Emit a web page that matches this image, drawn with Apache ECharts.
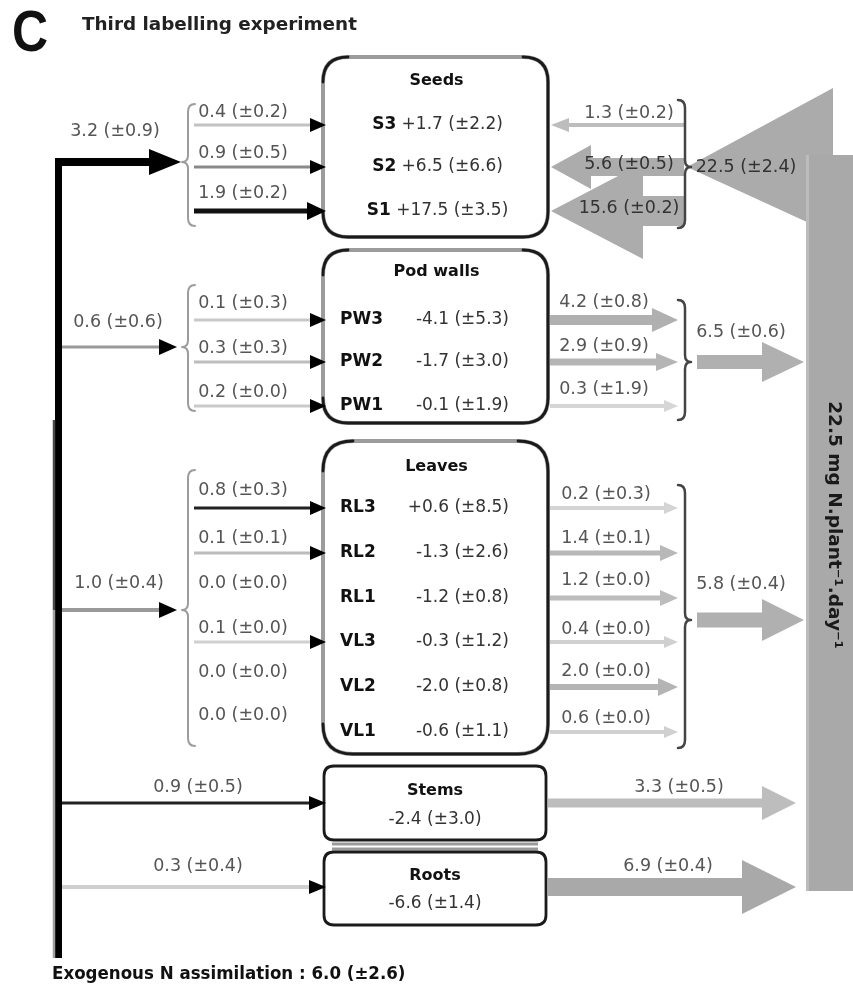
<!DOCTYPE html>
<html><head><meta charset="utf-8">
<script src="https://cdn.jsdelivr.net/npm/echarts@6/dist/echarts.min.js"></script>
<style>html,body{margin:0;padding:0;background:#fff}#c{width:853px;height:990px}</style>
</head><body><div id="c"></div>
<script>
// ================= DATA =================
const panelLetter = "C";
const panelTitle = "Third labelling experiment";
const organNames = ["Seeds", "Pod walls", "Leaves", "Stems", "Roots"];
// exogenous N delivered to each organ (mean, sd)
const exoMean = [3.2, 0.6, 1.0, 0.9, 0.3];
const exoSd   = [0.9, 0.6, 0.4, 0.5, 0.4];
// seeds
const seedLayers   = ["S3", "S2", "S1"];
const seedBalMean  = [1.7, 6.5, 17.5];
const seedBalSd    = [2.2, 6.6, 3.5];
const seedExoMean  = [0.4, 0.9, 1.9];
const seedExoSd    = [0.2, 0.5, 0.2];
const seedRemobMean = [1.3, 5.6, 15.6];
const seedRemobSd   = [0.2, 0.5, 0.2];
// pod walls
const podLayers  = ["PW3", "PW2", "PW1"];
const podBalMean = [-4.1, -1.7, -0.1];
const podBalSd   = [5.3, 3.0, 1.9];
const podExoMean = [0.1, 0.3, 0.2];
const podExoSd   = [0.3, 0.3, 0.0];
const podOutMean = [4.2, 2.9, 0.3];
const podOutSd   = [0.8, 0.9, 1.9];
// leaves
const leafLayers  = ["RL3", "RL2", "RL1", "VL3", "VL2", "VL1"];
const leafBalMean = [0.6, -1.3, -1.2, -0.3, -2.0, -0.6];
const leafBalSd   = [8.5, 2.6, 0.8, 1.2, 0.8, 1.1];
const leafExoMean = [0.8, 0.1, 0.0, 0.1, 0.0, 0.0];
const leafExoSd   = [0.3, 0.1, 0.0, 0.0, 0.0, 0.0];
const leafOutMean = [0.2, 1.4, 1.2, 0.4, 2.0, 0.6];
const leafOutSd   = [0.3, 0.1, 0.0, 0.0, 0.0, 0.0];
// stems & roots balance (mean, sd)
const stemBal = [-2.4, 3.0];
const rootBal = [-6.6, 1.4];
// organ totals remobilised to / from the pool (mean, sd)
const totalMean = [22.5, 6.5, 5.8, 3.3, 6.9];
const totalSd   = [2.4, 0.6, 0.4, 0.5, 0.4];
const poolLabel = "22.5 mg N.plant\u207B\u00B9.day\u207B\u00B9";
const exoTotal = [6.0, 2.6];
const exoTotalLabel = "Exogenous N assimilation";

// ================= LAYOUT / STYLE =================
const FF = "DejaVu Sans";
const fmt = (m, s) => m.toFixed(1) + " (\u00B1" + s.toFixed(1) + ")";
const fmtS = (m, s) => (m > 0 ? "+" : (m < 0 ? "-" : "")) + Math.abs(m).toFixed(1) + " (\u00B1" + s.toFixed(1) + ")";

const shapes = [];
const T = (x, y, t, o) => shapes.push(Object.assign({k: 'text', x, y, t}, o || {}));
const Ln = (pts, color, w) => shapes.push({k: 'line', pts, color, w});
const Head = (tip, y, len, half, color, dir) =>
  shapes.push({k: 'poly', pts: [[tip, y], [tip - dir * len, y - half], [tip - dir * len, y + half]], fill: color});
const Fat = (x1, x2, y, sh, hl, hh, color) => {
  const d = x2 > x1 ? 1 : -1, xb = x2 - d * hl;
  shapes.push({k: 'poly', fill: color, pts: [[x1, y - sh / 2], [xb, y - sh / 2], [xb, y - hh], [x2, y], [xb, y + hh], [xb, y + sh / 2], [x1, y + sh / 2]]});
};
const Path = (segs, color, w, fill) => shapes.push({k: 'path', segs, color, w, fill});
const Poly = (pts, fill) => shapes.push({k: 'poly', pts, fill});
const Rect = (x, y, w, h, fill) => shapes.push({k: 'rect', x, y, w, h, fill});

function brace(x, top, bot, mid, dir, color, w) { // dir -1 '{', +1 '}'
  const e = -dir * 7;
  Path([['M', x + e, top], ['Q', x, top, x, top + 8], ['L', x, mid - 7], ['Q', x, mid, x + dir * 6, mid],
        ['Q', x, mid, x, mid + 7], ['L', x, bot - 8], ['Q', x, bot, x + e, bot]], color, w);
}
function roundBox(x, y, w, h, r) {
  Path([['M', x + r, y], ['L', x + w - r, y], ['Q', x + w, y, x + w, y + r], ['L', x + w, y + h - r], ['Q', x + w, y + h, x + w - r, y + h],
        ['L', x + r, y + h], ['Q', x, y + h, x, y + h - r], ['L', x, y + r], ['Q', x, y, x + r, y], ['Z']], '#9c9c9c', 4, '#fff');
  Path([['M', x + w - r, y], ['Q', x + w, y, x + w, y + r], ['L', x + w, y + h - r], ['Q', x + w, y + h, x + w - r, y + h],
        ['L', x + r, y + h], ['Q', x, y + h, x, y + h - r]], '#1a1a1a', 2.8);
  Path([['M', x, y + r], ['Q', x, y, x + r, y]], '#1a1a1a', 2.8);
}
const lblFont = {fontSize: 17.5, color: '#555'};

// ---- pool bar on the right and big arrow to seeds
Poly([[687, 167], [833, 88], [833, 234]], '#ababab');
Rect(806, 155, 47, 736, '#a9a9a9');
Ln([[807.5, 155], [807.5, 891]], '#bcbcbc', 3);
T(834, 525, poolLabel, {fontSize: 18.5, bold: true, color: '#1a1a1a', rot: -Math.PI / 2});

// ---- header
T(12, 35, panelLetter, {fontSize: 58, bold: true, color: '#111', align: 'left', sx: 0.86, ff: 'Liberation Sans'});
T(82, 25, panelTitle, {fontSize: 18, bold: true, color: '#222', align: 'left', sx: 1.02});

// ---- main exogenous trunk
Ln([[58.5, 158], [58.5, 958]], '#000', 7);
Ln([[54, 420], [54, 610]], '#4a4a4a', 2.5);
Ln([[54, 610], [54, 958]], '#a0a0a0', 2.5);
T(52, 975, exoTotalLabel + " : " + fmt(exoTotal[0], exoTotal[1]), {fontSize: 17, bold: true, color: '#111', align: 'left', sx: 0.98});

// ---------- blocks with layers ----------
const blocks = [
  { // seeds
    box: [323, 57, 225, 180, 25], titleY: 81, rowY: [125, 167, 211], rowAlign: 'center',
    mainY: 162, mainLabelY: 131, mainLabelX: 115, mainColor: '#000', mainW: 8, mainTip: 181, mainHL: 32, mainHH: 13,
    braceY: [104, 226], inColor: ['#c2c2c2', '#8a8a8a', '#111'], inW: [3, 3, 5], inLblDy: [-13, -14, -18],
    layers: seedLayers, balM: seedBalMean, balS: seedBalSd, inM: seedExoMean, inS: seedExoSd
  },
  { // pod walls
    box: [323, 250, 225, 173, 25], titleY: 272, rowY: [320, 362, 406], rowAlign: 'split',
    mainY: 347, mainLabelY: 322, mainLabelX: 118, mainColor: '#9a9a9a', mainW: 3, mainTip: 177, mainHL: 18, mainHH: 8,
    braceY: [285, 411], inColor: ['#c8c8c8', '#bdbdbd', '#cacaca'], inW: [3, 3, 3], inLblDy: [-17, -14, -14],
    layers: podLayers, balM: podBalMean, balS: podBalSd, inM: podExoMean, inS: podExoSd
  },
  { // leaves
    box: [323, 441, 225, 313, 30], titleY: 467, rowY: [508, 553, 598, 642, 687, 732], rowAlign: 'split',
    mainY: 610, mainLabelY: 583, mainLabelX: 119, mainColor: '#9a9a9a', mainW: 4, mainTip: 177, mainHL: 18, mainHH: 8,
    braceY: [470, 746], inColor: ['#222', '#bcbcbc', null, '#d0d0d0', null, null], inW: [3, 3, 0, 3, 0, 0], inLblDy: [-18, -15, -15, -14, -15, -17],
    layers: leafLayers, balM: leafBalMean, balS: leafBalSd, inM: leafExoMean, inS: leafExoSd
  }
];

blocks.forEach((b, bi) => {
  const [bx, by, bw, bh, br] = b.box;
  roundBox(bx, by, bw, bh, br);
  T(bx + bw / 2 + 1, b.titleY, organNames[bi], {fontSize: 16, bold: true, color: '#111'});
  Ln([[bi === 0 ? 55 : 62, b.mainY], [b.mainTip - b.mainHL + 2, b.mainY]], b.mainColor, b.mainW);
  Head(b.mainTip, b.mainY, b.mainHL, b.mainHH, '#000', 1);
  T(b.mainLabelX, b.mainLabelY, fmt(exoMean[bi], exoSd[bi]), lblFont);
  brace(188, b.braceY[0], b.braceY[1], b.mainY, -1, '#9c9c9c', 2);
  b.rowY.forEach((y, i) => {
    if (b.inColor[i]) {
      const big = b.inW[i] >= 5;
      Ln([[194, y], [312, y]], b.inColor[i], b.inW[i]);
      Head(326, y, big ? 19 : 16, big ? 9 : 7, '#000', 1);
    }
    T(243, y + b.inLblDy[i], fmt(b.inM[i], b.inS[i]), lblFont);
    if (b.rowAlign === 'center') {
      T(bx + bw / 2 + 2, y, '{b|' + b.layers[i] + '} ' + fmtS(b.balM[i], b.balS[i]), {fontSize: 17, color: '#333', rich: true});
    } else {
      T(bx + 17, y, b.layers[i], {fontSize: 17, bold: true, color: '#111', align: 'left'});
      T(bx + 186, y, fmtS(b.balM[i], b.balS[i]), {fontSize: 17, color: '#333', align: 'right'});
    }
  });
});

// ---- seeds: remobilisation into seed layers (leftward arrows)
const seedRowY = blocks[0].rowY;
const seedArrowStyle = [[4, 18, 7, '#bdbdbd'], [18, 40, 22, '#acacac'], [30, 92, 48, '#acacac']];
[2, 1, 0].forEach(i => {
  const s = seedArrowStyle[i];
  Fat(684, 551, seedRowY[i], s[0], s[1], s[2], s[3]);
});
brace(685, 100, 228, 167, 1, '#444', 2.5);
seedRowY.forEach((y, i) => T(629, i === 0 ? y - 12 : y - 3, fmt(seedRemobMean[i], seedRemobSd[i]), {fontSize: 17.5, color: i === 0 ? '#555' : '#333'}));
T(746, 167, fmt(totalMean[0], totalSd[0]), {fontSize: 17.5, color: '#333'});

// ---- pod walls and leaves outputs
const outBlocks = [
  {bi: 1, m: podOutMean, s: podOutSd, lblX: 604, lblDy: [-18, -16, -17],
   st: [[10, 26, 12, '#b0b0b0'], [7, 22, 9, '#b5b5b5'], [4, 14, 6, '#d6d6d6']],
   bracket: [300, 420], midY: 362, totLblY: 332, tot: [14, 42, 20]},
  {bi: 2, m: leafOutMean, s: leafOutSd, lblX: 606, lblDy: [-14, -15, -18, -13, -16, -14],
   st: [[4, 14, 6, '#d4d4d4'], [5, 18, 8, '#b8b8b8'], [5, 18, 8, '#bcbcbc'], [4, 14, 6, '#d0d0d0'], [6, 20, 9, '#b4b4b4'], [4, 14, 6, '#d0d0d0']],
   bracket: [485, 748], midY: 620, totLblY: 584, tot: [15, 42, 21]}
];
outBlocks.forEach(o => {
  const rows = blocks[o.bi].rowY;
  rows.forEach((y, i) => {
    const s = o.st[i];
    Fat(550, 678, y, s[0], s[1], s[2], s[3]);
    T(o.lblX, y + o.lblDy[i], fmt(o.m[i], o.s[i]), lblFont);
  });
  brace(685, o.bracket[0], o.bracket[1], o.midY, 1, '#444', 2.5);
  Fat(697, 804, o.midY, o.tot[0], o.tot[1], o.tot[2], '#b0b0b0');
  T(741, o.totLblY, fmt(totalMean[o.bi], totalSd[o.bi]), lblFont);
});

// ---- stems and roots
const simple = [
  {bi: 3, box: [324, 766, 222, 74], y: 803, inColor: '#222', inW: 3, bal: stemBal, tot: [9, 34, 17, '#bdbdbd'], totLblX: 679, lblY: 787, titleY: 791, valY: 820},
  {bi: 4, box: [324, 852, 222, 73], y: 887, inColor: '#cfcfcf', inW: 4, bal: rootBal, tot: [18, 54, 27, '#a9a9a9'], totLblX: 668, lblY: 866, titleY: 876, valY: 904}
];
simple.forEach(s => {
  const [x, y, w, h] = s.box;
  if (s.bi === 3) Ln([[x + 8, y + h + 4], [x + w - 8, y + h + 4]], '#9a9a9a', 3);
  else Ln([[x + 8, y - 3], [x + w - 8, y - 3]], '#9a9a9a', 3);
  Path([['M', x + 10, y], ['L', x + w - 10, y], ['Q', x + w, y, x + w, y + 10], ['L', x + w, y + h - 10], ['Q', x + w, y + h, x + w - 10, y + h],
        ['L', x + 10, y + h], ['Q', x, y + h, x, y + h - 10], ['L', x, y + 10], ['Q', x, y, x + 10, y], ['Z']], '#1a1a1a', 2.8, '#fff');
  T(x + w / 2, s.titleY, organNames[s.bi], {fontSize: 16, bold: true, color: '#111'});
  T(x + w / 2, s.valY, fmtS(s.bal[0], s.bal[1]), {fontSize: 17, color: '#333'});
  Ln([[62, s.y], [310, s.y]], s.inColor, s.inW);
  Head(326, s.y, 17, 7, '#000', 1);
  T(198, s.lblY, fmt(exoMean[s.bi], exoSd[s.bi]), lblFont);
  Fat(x + w + 2, 796, s.y, s.tot[0], s.tot[1], s.tot[2], s.tot[3]);
  T(s.totLblX, s.lblY, fmt(totalMean[s.bi], totalSd[s.bi]), lblFont);
});

// ================= RENDER =================
function renderItem(params, api) {
  const s = shapes[params.dataIndex];
  const P = (x, y) => api.coord([x, y]);
  if (s.k === 'text') {
    const p = P(s.x, s.y);
    const st = {
      text: s.t, fill: s.color || '#555', fontFamily: s.ff || FF, fontSize: s.fontSize,
      fontWeight: s.bold ? 'bold' : 'normal', align: s.align || 'center', verticalAlign: 'middle'
    };
    if (s.rich) st.rich = {b: {fontFamily: FF, fontSize: s.fontSize, fontWeight: 'bold', fill: '#111'}};
    return {type: 'text', x: p[0], y: p[1], rotation: s.rot || 0, scaleX: s.sx || 1, style: st};
  }
  if (s.k === 'line') {
    return {type: 'polyline', shape: {points: s.pts.map(q => P(q[0], q[1]))}, style: {stroke: s.color, lineWidth: s.w, fill: null}};
  }
  if (s.k === 'poly') {
    return {type: 'polygon', shape: {points: s.pts.map(q => P(q[0], q[1]))}, style: {fill: s.fill}};
  }
  if (s.k === 'rect') {
    const a = P(s.x, s.y), b = P(s.x + s.w, s.y + s.h);
    return {type: 'rect', shape: {x: a[0], y: a[1], width: b[0] - a[0], height: b[1] - a[1]}, style: {fill: s.fill}};
  }
  if (s.k === 'path') {
    let d = '';
    s.segs.forEach(g => {
      d += g[0];
      for (let j = 1; j < g.length; j += 2) { const p = P(g[j], g[j + 1]); d += ' ' + p[0].toFixed(2) + ' ' + p[1].toFixed(2); }
      d += ' ';
    });
    return {type: 'path', shape: {pathData: d}, style: {stroke: s.color, lineWidth: s.w, fill: s.fill || null, lineJoin: 'round', lineCap: 'round'}};
  }
}

const chart = echarts.init(document.getElementById('c'), null, {renderer: 'canvas'});
chart.setOption({
  animation: false,
  grid: {left: 0, right: 0, top: 0, bottom: 0},
  xAxis: {type: 'value', min: 0, max: 853, show: false},
  yAxis: {type: 'value', min: 0, max: 990, inverse: true, show: false},
  series: [{type: 'custom', renderItem, clip: false, silent: true, data: shapes.map((s, i) => [i % 800, 0])}]
});
</script></body></html>
